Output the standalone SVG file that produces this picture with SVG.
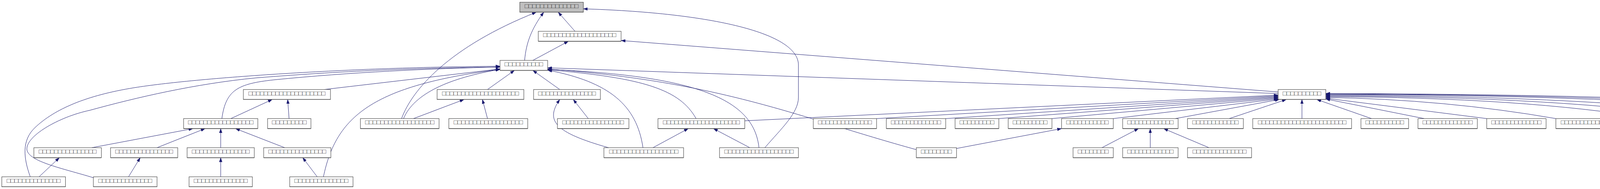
<svg xmlns="http://www.w3.org/2000/svg" width="5201" height="485" viewBox="0 0 5201 485">
<style>
.n rect{fill:#fff;stroke:#404040;stroke-width:1.1}
.n.g rect{fill:#bfbfbf}
.n line{stroke:#555;stroke-width:1.6}
.n text{font-family:"Liberation Mono","DejaVu Sans Mono",monospace;font-size:16.4px;fill:#333;text-anchor:middle}
#edges path{fill:none;stroke:#191970;stroke-width:1;marker-end:url(#ah)}
</style>
<defs>
<marker id="ah" viewBox="0 0 11 7.5" refX="11" refY="3.75" markerWidth="11" markerHeight="7.5" markerUnits="userSpaceOnUse" orient="auto"><path d="M0,0 L11,3.75 L0,7.5 z" fill="#191970" stroke="#191970" stroke-width="0.5"/></marker>
</defs>
<rect width="5201" height="485" fill="#fff"/>
<g id="edges">
<path d="M100,453.7 L152,404.6"/>
<path d="M329,453.7 L359,404.6"/>
<path d="M565,453.7 L565,404.6"/>
<path d="M812,453.7 L775,404.6"/>
<path d="M235,379 L494,330"/>
<path d="M402,379 L525,330"/>
<path d="M565,379 L565,330"/>
<path d="M729,379 L603,330"/>
<path d="M591,304.3 L697,255.3"/>
<path d="M740,304.3 L736.5,255.3"/>
<path d="M1058.6,304.3 L1188,255.3"/>
<path d="M1248,304.3 L1235,255.3"/>
<path d="M1506,304.3 L1467.6,255.3"/>
<path d="M1558,379 C1420,340 1395,310 1433,255.3"/>
<path d="M1671.5,379 L1762,330"/>
<path d="M1919.5,379 L1826.5,330"/>
<path d="M2448.7,381 L2717.6,330"/>
<path d="M2821,379 L2914.6,330"/>
<path d="M2944.7,379 L2944.7,330"/>
<path d="M3095,379 L2979,330"/>
<path d="M830,229.7 L1280,177"/>
<path d="M1248,229.7 L1317,180.6"/>
<path d="M1433,229.7 L1364,180.6"/>
<path d="M568,304.3 C578,230 610,215 700,205 C900,185 1100,176 1280,172"/>
<path d="M1033,304.3 C1060,240 1150,200 1280,178"/>
<path d="M828,453.7 C860,300 950,220 1280,178"/>
<path d="M77.5,453.7 C60,405 55,360 90,327 C140,280 220,245 344,225 C500,200 900,172 1280,170"/>
<path d="M239,456 C160,432 75,415 69,385 C64,350 150,300 230,283 C350,250 500,215 654,200 C900,180 1100,174 1280,172"/>
<path d="M1646,379 C1630,270 1560,210 1402,180"/>
<path d="M1782,304.3 C1740,230 1650,200 1402,179"/>
<path d="M1943,379 C1930,260 1800,195 1402,178"/>
<path d="M2345.7,384 C2040,300 1850,210 1402,177"/>
<path d="M3272,240 L1402,174"/>
<path d="M3272,236 L1590,104"/>
<path d="M1364,155 L1455,106"/>
<path d="M1343,155 C1347,110 1360,75 1392,31.3"/>
<path d="M1472,80.3 L1429,31.3"/>
<path d="M1028,304.3 C1055,230 1150,120 1373,31.3"/>
<path d="M1958,379 C2000,330 2044,290 2044,250 L2044,167 C2044,80 1800,32 1493.4,22.7"/>
<path d="M1906.6,310 L3272,244"/>
<path d="M2244,304.3 L3272,246"/>
<path d="M2421,304.3 L3272,248"/>
<path d="M2557,304.3 L3272,250"/>
<path d="M2693,304.3 L3272,252"/>
<path d="M2850,304.3 L3272,254"/>
<path d="M3009,304.3 L3275,255.3"/>
<path d="M3147,304.3 L3293,255.3"/>
<path d="M3333,304.3 L3333,255.3"/>
<path d="M3511,304.3 L3371,255.3"/>
<path d="M3646,304.3 L3394,254"/>
<path d="M3806,304.3 L3394,252"/>
<path d="M3983,304.3 Q3700,255 3394,250"/>
<path d="M4230,304.3 Q3900,250 3394,248"/>
<path d="M4377,304.3 Q4000,248 3394,246"/>
<path d="M4534,304.3 Q4100,246 3394,244"/>
<path d="M4780,304.3 Q4250,244 3394,242"/>
<path d="M4907,304.3 Q4350,243 3394,241"/>
<path d="M5063,304.3 Q4450,242 3394,240"/>
</g>
<g id="root" class="n g"><rect x="1330.7" y="5.7" width="162.7" height="25.6"/><line x1="1330.7" y1="31.3" x2="1493.4" y2="31.3"/><text x="1412" y="20.7">□□□□□□□□□□□□□□</text></g>
<g id="nB" class="n"><rect x="1378" y="80.3" width="212" height="25.6"/><line x1="1378" y1="105.9" x2="1590" y2="105.9"/><text x="1484" y="95.3">□□□□□□□□□□□□□□□□□□□</text></g>
<g id="nH" class="n"><rect x="1280" y="155" width="122" height="25.6"/><line x1="1280" y1="180.6" x2="1402" y2="180.6"/><text x="1341" y="170">□□□□□□□□□□</text></g>
<g id="r3a" class="n"><rect x="623" y="229.7" width="223" height="25.6"/><line x1="623" y1="255.3" x2="846" y2="255.3"/><text x="734.5" y="244.7">□□□□□□□□□□□□□□□□□□□□</text></g>
<g id="r3b" class="n"><rect x="1119" y="229.7" width="222" height="25.6"/><line x1="1119" y1="255.3" x2="1341" y2="255.3"/><text x="1230" y="244.7">□□□□□□□□□□□□□□□□□□□□</text></g>
<g id="r3c" class="n"><rect x="1366" y="229.7" width="171" height="25.6"/><line x1="1366" y1="255.3" x2="1537" y2="255.3"/><text x="1451.5" y="244.7">□□□□□□□□□□□□□□□</text></g>
<g id="nH2" class="n"><rect x="3272" y="229.7" width="122" height="25.6"/><line x1="3272" y1="255.3" x2="3394" y2="255.3"/><text x="3333" y="244.7">□□□□□□□□□□</text></g>
<g id="r4a" class="n"><rect x="470" y="304.3" width="190" height="25.6"/><line x1="470" y1="329.9" x2="660" y2="329.9"/><text x="565" y="319.3">□□□□□□□□□□□□□□□□□</text></g>
<g id="r4b" class="n"><rect x="685" y="304.3" width="111" height="25.6"/><line x1="685" y1="329.9" x2="796" y2="329.9"/><text x="740.5" y="319.3">□□□□□□□□□</text></g>
<g id="r4c" class="n"><rect x="922.6" y="304.3" width="201.4" height="25.6"/><line x1="922.6" y1="329.9" x2="1124" y2="329.9"/><text x="1023.3" y="319.3">□□□□□□□□□□□□□□□□□□</text></g>
<g id="r4d" class="n"><rect x="1149" y="304.3" width="202" height="25.6"/><line x1="1149" y1="329.9" x2="1351" y2="329.9"/><text x="1250" y="319.3">□□□□□□□□□□□□□□□□□□</text></g>
<g id="r4e" class="n"><rect x="1427" y="304.3" width="183" height="25.6"/><line x1="1427" y1="329.9" x2="1610" y2="329.9"/><text x="1518.5" y="319.3">□□□□□□□□□□□□□□□□</text></g>
<g id="r4f" class="n"><rect x="1684.4" y="304.3" width="222.2" height="25.6"/><line x1="1684.4" y1="329.9" x2="1906.6" y2="329.9"/><text x="1795.5" y="319.3">□□□□□□□□□□□□□□□□□□□□</text></g>
<g id="r4g" class="n"><rect x="2082" y="304.3" width="162" height="25.6"/><line x1="2082" y1="329.9" x2="2244" y2="329.9"/><text x="2163" y="319.3">□□□□□□□□□□□□□□</text></g>
<g id="r4h" class="n"><rect x="2269" y="304.3" width="152" height="25.6"/><line x1="2269" y1="329.9" x2="2421" y2="329.9"/><text x="2345" y="319.3">□□□□□□□□□□□□□</text></g>
<g id="r4i" class="n"><rect x="2445" y="304.3" width="112" height="25.6"/><line x1="2445" y1="329.9" x2="2557" y2="329.9"/><text x="2501" y="319.3">□□□□□□□□□</text></g>
<g id="r4j" class="n"><rect x="2581" y="304.3" width="112" height="25.6"/><line x1="2581" y1="329.9" x2="2693" y2="329.9"/><text x="2637" y="319.3">□□□□□□□□□</text></g>
<g id="r4k" class="n"><rect x="2717.6" y="304.3" width="132.4" height="25.6"/><line x1="2717.6" y1="329.9" x2="2850" y2="329.9"/><text x="2783.8" y="319.3">□□□□□□□□□□□</text></g>
<g id="r4l" class="n"><rect x="2874" y="304.3" width="142" height="25.6"/><line x1="2874" y1="329.9" x2="3016" y2="329.9"/><text x="2945" y="319.3">□□□□□□□□□□□□</text></g>
<g id="r4m" class="n"><rect x="3040" y="304.3" width="143" height="25.6"/><line x1="3040" y1="329.9" x2="3183" y2="329.9"/><text x="3111.5" y="319.3">□□□□□□□□□□□□</text></g>
<g id="r4n" class="n"><rect x="3207" y="304.3" width="253" height="25.6"/><line x1="3207" y1="329.9" x2="3460" y2="329.9"/><text x="3333.5" y="319.3">□□□□□□□□□□□□□□□□□□□□□□□</text></g>
<g id="r4o" class="n"><rect x="3484" y="304.3" width="122" height="25.6"/><line x1="3484" y1="329.9" x2="3606" y2="329.9"/><text x="3545" y="319.3">□□□□□□□□□□</text></g>
<g id="r4p" class="n"><rect x="3630" y="304.3" width="152" height="25.6"/><line x1="3630" y1="329.9" x2="3782" y2="329.9"/><text x="3706" y="319.3">□□□□□□□□□□□□□</text></g>
<g id="r4q" class="n"><rect x="3806" y="304.3" width="152" height="25.6"/><line x1="3806" y1="329.9" x2="3958" y2="329.9"/><text x="3882" y="319.3">□□□□□□□□□□□□□</text></g>
<g id="r4r" class="n"><rect x="3983" y="304.3" width="222" height="25.6"/><line x1="3983" y1="329.9" x2="4205" y2="329.9"/><text x="4094" y="319.3">□□□□□□□□□□□□□□□□□□□□</text></g>
<g id="r4s" class="n"><rect x="4230" y="304.3" width="123" height="25.6"/><line x1="4230" y1="329.9" x2="4353" y2="329.9"/><text x="4291.5" y="319.3">□□□□□□□□□□</text></g>
<g id="r4t" class="n"><rect x="4377" y="304.3" width="133" height="25.6"/><line x1="4377" y1="329.9" x2="4510" y2="329.9"/><text x="4443.5" y="319.3">□□□□□□□□□□□</text></g>
<g id="r4u" class="n"><rect x="4534" y="304.3" width="222" height="25.6"/><line x1="4534" y1="329.9" x2="4756" y2="329.9"/><text x="4645" y="319.3">□□□□□□□□□□□□□□□□□□□□</text></g>
<g id="r4v" class="n"><rect x="4780" y="304.3" width="103" height="25.6"/><line x1="4780" y1="329.9" x2="4883" y2="329.9"/><text x="4831.5" y="319.3">□□□□□□□□</text></g>
<g id="r4w" class="n"><rect x="4907" y="304.3" width="132" height="25.6"/><line x1="4907" y1="329.9" x2="5039" y2="329.9"/><text x="4973" y="319.3">□□□□□□□□□□□</text></g>
<g id="r4x" class="n"><rect x="5063" y="304.3" width="132" height="25.6"/><line x1="5063" y1="329.9" x2="5195" y2="329.9"/><text x="5129" y="319.3">□□□□□□□□□□□</text></g>
<g id="r5a" class="n"><rect x="86.7" y="379" width="172.8" height="25.6"/><line x1="86.7" y1="404.6" x2="259.5" y2="404.6"/><text x="173.1" y="394">□□□□□□□□□□□□□□□</text></g>
<g id="r5b" class="n"><rect x="283" y="379" width="172" height="25.6"/><line x1="283" y1="404.6" x2="455" y2="404.6"/><text x="369" y="394">□□□□□□□□□□□□□□□</text></g>
<g id="r5c" class="n"><rect x="479" y="379" width="172" height="25.6"/><line x1="479" y1="404.6" x2="651" y2="404.6"/><text x="565" y="394">□□□□□□□□□□□□□□□</text></g>
<g id="r5d" class="n"><rect x="675" y="379" width="172" height="25.6"/><line x1="675" y1="404.6" x2="847" y2="404.6"/><text x="761" y="394">□□□□□□□□□□□□□□□</text></g>
<g id="r5e" class="n"><rect x="1546" y="379" width="204" height="25.6"/><line x1="1546" y1="404.6" x2="1750" y2="404.6"/><text x="1648" y="394">□□□□□□□□□□□□□□□□□□</text></g>
<g id="r5f" class="n"><rect x="1842" y="379" width="202" height="25.6"/><line x1="1842" y1="404.6" x2="2044" y2="404.6"/><text x="1943" y="394">□□□□□□□□□□□□□□□□□□</text></g>
<g id="r5g" class="n"><rect x="2345.7" y="379" width="103" height="25.6"/><line x1="2345.7" y1="404.6" x2="2448.7" y2="404.6"/><text x="2397.2" y="394">□□□□□□□□</text></g>
<g id="r5h" class="n"><rect x="2747" y="379" width="103" height="25.6"/><line x1="2747" y1="404.6" x2="2850" y2="404.6"/><text x="2798.5" y="394">□□□□□□□□</text></g>
<g id="r5i" class="n"><rect x="2874" y="379" width="142" height="25.6"/><line x1="2874" y1="404.6" x2="3016" y2="404.6"/><text x="2945" y="394">□□□□□□□□□□□□</text></g>
<g id="r5j" class="n"><rect x="3040" y="379" width="164" height="25.6"/><line x1="3040" y1="404.6" x2="3204" y2="404.6"/><text x="3122" y="394">□□□□□□□□□□□□□□</text></g>
<g id="r6a" class="n"><rect x="4.6" y="453.7" width="163" height="25.6"/><line x1="4.6" y1="479.3" x2="167.6" y2="479.3"/><text x="86.1" y="468.7">□□□□□□□□□□□□□□</text></g>
<g id="r6b" class="n"><rect x="239" y="453.7" width="163" height="25.6"/><line x1="239" y1="479.3" x2="402" y2="479.3"/><text x="320.5" y="468.7">□□□□□□□□□□□□□□</text></g>
<g id="r6c" class="n"><rect x="484" y="453.7" width="162" height="25.6"/><line x1="484" y1="479.3" x2="646" y2="479.3"/><text x="565" y="468.7">□□□□□□□□□□□□□□</text></g>
<g id="r6d" class="n"><rect x="741.7" y="453.7" width="162" height="25.6"/><line x1="741.7" y1="479.3" x2="903.7" y2="479.3"/><text x="822.7" y="468.7">□□□□□□□□□□□□□□</text></g>
</svg>
